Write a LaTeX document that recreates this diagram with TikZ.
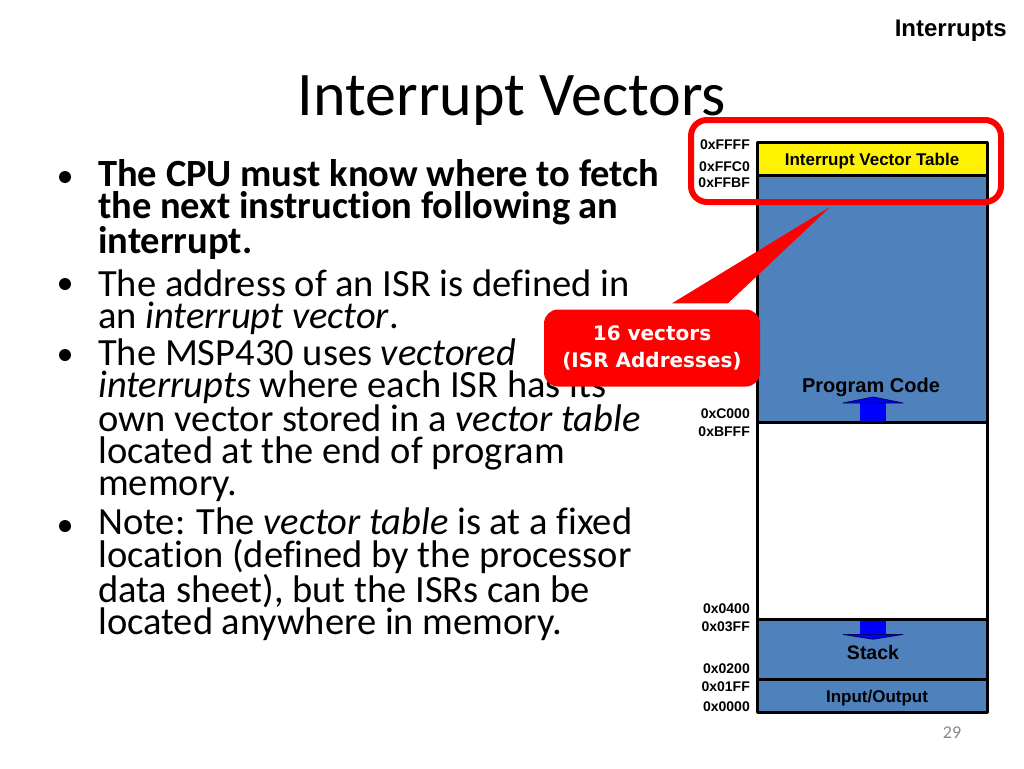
\documentclass[tikz,border=0pt]{standalone}
\usepackage{fontspec}
\setmainfont{Carlito}[Ligatures=CommonOff]
\newfontfamily\arialfont{Liberation Sans}
\newfontfamily\comicfont{DejaVu Sans}
\usetikzlibrary{calc}
\definecolor{memblue}{RGB}{79,129,189}
\definecolor{hilite}{RGB}{255,0,0}
\definecolor{arrowblue}{RGB}{0,0,255}
\definecolor{arrowedge}{RGB}{0,0,110}
\definecolor{pagegray}{RGB}{137,137,137}
\tikzset{
  bodytext/.style={font=\fontsize{38.5}{32.2}\selectfont, align=left, anchor=base west, inner sep=0pt},
  bulletdot/.style={circle, fill=black, inner sep=0pt, minimum size=12pt},
  addr/.style={font=\arialfont\bfseries\fontsize{14}{14}\selectfont, anchor=east, inner sep=0pt},
  memlabel/.style={font=\arialfont\bfseries, anchor=base, inner sep=0pt},
  memline/.style={line width=3pt},
  callbox/.style={fill=hilite, rounded corners=14pt, minimum width=216pt, minimum height=77pt,
    text=white, align=center, font=\comicfont\bfseries\fontsize{20}{27}\selectfont},
  hibox/.style={draw=hilite, line width=6pt, rounded corners=16pt, minimum width=310pt, minimum height=82pt}
}
\tikzset{growarrow/.pic={
    \fill[arrowblue] (-13,0) rectangle (13,-18);
    \filldraw[fill=arrowblue, draw=arrowedge, line width=0.8pt] (-30,-18) -- (0,-24) -- (30,-18) -- cycle;}}
\begin{document}
\begin{tikzpicture}[x=1pt, y=-1pt, line join=round]
\useasboundingbox (0,0) rectangle (1024,768);
% header and title
\node[font=\arialfont\bfseries\fontsize{24}{24}\selectfont, anchor=base east, inner sep=0pt] (chapter) at (1007,37) {Interrupts};
\node[font=\fontsize{62}{62}\selectfont, anchor=base, inner sep=0pt] (title) at (512,115) {Interrupt Vectors};
% bullet list (nodes sit on the baseline of their last line)
\foreach \y [count=\i] in {189,296,367,538}
  \node[bulletdot] (dot\i) at (65,\y-12) {};
\node[bodytext] (item1) at (98,253.4) {\textbf{The CPU must know where to fetch}\\\textbf{the next instruction following an}\\\textbf{interrupt.}};
\node[bodytext] (item2) at (98,328.2) {The address of an ISR is defined in\\an \emph{interrupt vector}.};
\node[bodytext] (item3) at (98,495.8) {The MSP430 uses \emph{vectored}\\\emph{interrupts} where each ISR has its\\own vector stored in a \emph{vector table}\\located at the end of program\\memory.};
\node[bodytext] (item4) at (98,634.6) {Note: The \emph{vector table} is at a fixed\\location (defined by the processor\\data sheet), but the ISRs can be\\located anywhere in memory.};
% memory map
\fill[yellow] (757,142) rectangle (987,175);
\fill[memblue] (757,175) rectangle (987,422);
\fill[white] (757,422) rectangle (987,619);
\fill[memblue] (757,619) rectangle (987,712);
\path (873,421) pic{growarrow};
\path (873,620) pic[yscale=-0.8]{growarrow};
\draw[memline] (757,142) rectangle (987,712);
\foreach \y in {175,422,619,679}
  \draw[memline] (757,\y) -- (987,\y);
\node[memlabel, font=\arialfont\bfseries\fontsize{17}{17}\selectfont] (ivt) at (872,165) {Interrupt Vector Table};
\node[memlabel, font=\arialfont\bfseries\fontsize{20}{20}\selectfont] (code) at (871,392) {Program Code};
\node[memlabel, font=\arialfont\bfseries\fontsize{19.5}{19.5}\selectfont] (stack) at (873,659) {Stack};
\node[memlabel, font=\arialfont\bfseries\fontsize{17}{17}\selectfont] (io) at (877,702) {Input/Output};
\foreach \t/\y [count=\i] in {0xFFFF/145,0xFFC0/167,0xFFBF/183,0xC000/414,0xBFFF/432,0x0400/609,0x03FF/627,0x0200/669,0x01FF/687,0x0000/707}
  \node[addr] (addr\i) at (750,\y) {\t};
% callout
\node[hibox] (frame) at (846,161) {};
\coordinate (tip) at ([xshift=-16pt,yshift=-2pt]frame.south);
\node[callbox] (isr) at (652,348) {16 vectors\\(ISR Addresses)};
\fill[hilite] ([xshift=20pt,yshift=6pt]isr.north) -- (tip) -- ([xshift=76pt,yshift=6pt]isr.north) -- cycle;
% page number
\node[font=\fontsize{18}{18}\selectfont, text=pagegray, inner sep=0pt] (page) at (952,733) {29};
\end{tikzpicture}
\end{document}
